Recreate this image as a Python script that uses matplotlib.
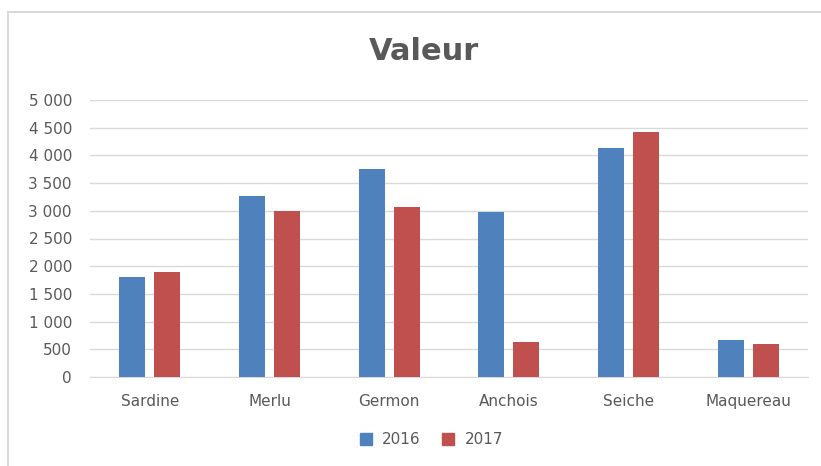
import numpy as np
import matplotlib.pyplot as plt
from matplotlib.lines import Line2D

especes = ['Sardine', 'Merlu', 'Germon', 'Anchois', 'Seiche', 'Maquereau']
valeur_2016 = [1800, 3265, 3755, 2975, 4135, 665]
valeur_2017 = [1890, 2995, 3065, 630, 4420, 590]
annees = ['2016', '2017']
graduations = [0, 500, 1000, 1500, 2000, 2500, 3000, 3500, 4000, 4500, 5000]

bleu = '#4f81bd'
rouge = '#c0504d'
gris = '#595959'

fig = plt.figure(figsize=(8.21, 4.66), dpi=100)
W, H = 821, 466
ax = fig.add_axes([90 / W, 1 - 377 / H, (808 - 90) / W, (377 - 100) / H])

x = np.arange(len(especes))
larg = 0.217
ax.bar(x - 0.146, valeur_2016, larg, color=bleu, label=annees[0], zorder=3)
ax.bar(x + 0.146, valeur_2017, larg, color=rouge, label=annees[1], zorder=3)

ax.set_xlim(-0.5, len(especes) - 0.5)
ax.set_ylim(0, 5000)
ax.set_yticks(graduations)
ax.set_yticklabels(['{:,}'.format(v).replace(',', ' ') for v in graduations])
ax.set_xticks(x)
ax.set_xticklabels(especes)
ax.grid(axis='y', color='#d9d9d9', linewidth=1, zorder=0)
for s in ['top', 'right', 'left']:
    ax.spines[s].set_visible(False)
ax.spines['bottom'].set_color('#d9d9d9')
ax.tick_params(axis='both', length=0, colors=gris, labelsize=11)
ax.tick_params(axis='y', pad=13)
ax.tick_params(axis='x', pad=12)

fig.text(424 / W, 1 - 52 / H, 'Valeur', ha='center', va='center',
         fontsize=22, fontweight='bold', color=gris)

poignees = [Line2D([], [], marker='s', linestyle='', color=bleu, markersize=9),
            Line2D([], [], marker='s', linestyle='', color=rouge, markersize=9)]
fig.legend(poignees, annees, loc='center', bbox_to_anchor=(427 / W, 1 - 440 / H),
           ncol=2, frameon=False, fontsize=11, labelcolor=gris,
           handletextpad=0.1, columnspacing=0.8)

# cadre du graphique
fig.add_artist(Line2D([8 / W, 8 / W], [0, 1 - 12 / H], color='#d9d9d9', linewidth=1.5))
fig.add_artist(Line2D([8 / W, 1], [1 - 12 / H, 1 - 12 / H], color='#d9d9d9', linewidth=1.5))

fig.savefig('out.png', dpi=100)
